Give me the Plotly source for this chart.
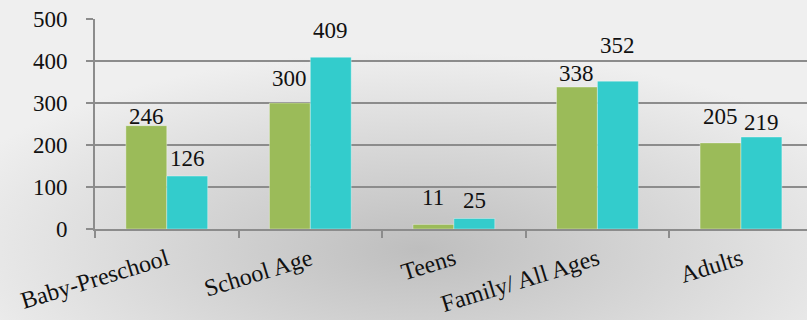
import base64
import plotly.graph_objects as go

categories = ["Baby-Preschool", "School Age", "Teens", "Family/ All Ages", "Adults"]
series_a = [246, 300, 11, 338, 205]
series_b = [126, 409, 25, 352, 219]
y_ticks = [0, 100, 200, 300, 400, 500]

# label lift above bar tops (pixels), as placed in the original
lift_a = [9, 25, 27, 13.5, 26.5]
lift_b = [17.5, 27, 18.5, 36, 15]

W, H = 807, 320
ML, MR, MT, MB = 95, 0, 19, 91
plot_w = W - ML - MR
plot_h = H - MT - MB
x_range = [-0.5, 4.46]
bargap = 0.43
cat_px = plot_w / (x_range[1] - x_range[0])
bar_px = cat_px * (1 - bargap) / 2

GREEN = "#9BBB59"
CYAN = "#33CCCC"
GRID = "#8c8c8c"
FONT = "'Liberation Serif', 'DejaVu Serif', serif"

fig = go.Figure()
fig.add_trace(go.Bar(x=categories, y=series_a, marker=dict(color=GREEN, line=dict(color="rgba(255,255,255,0.35)", width=1))))
fig.add_trace(go.Bar(x=categories, y=series_b, marker=dict(color=CYAN, line=dict(color="rgba(255,255,255,0.35)", width=1))))

for vals, lifts, sign in ((series_a, lift_a, -1), (series_b, lift_b, 1)):
    for c, v, l in zip(categories, vals, lifts):
        fig.add_annotation(x=c, y=v, xref="x", yref="y", text=str(v), showarrow=False,
                           xshift=sign * bar_px / 2, yshift=l, yanchor="middle", xanchor="center",
                           font=dict(family=FONT, size=23, color="#111111"))

svg = ('<svg xmlns="http://www.w3.org/2000/svg" width="807" height="320" viewBox="0 0 807 320" preserveAspectRatio="none">'
       '<defs><radialGradient id="g" cx="0.52" cy="0.78" r="0.62">'
       '<stop offset="0" stop-color="#bebebe"/><stop offset="1" stop-color="#efefef"/>'
       '</radialGradient></defs><rect width="807" height="320" fill="url(#g)"/></svg>')
src = "data:image/svg+xml;base64," + base64.b64encode(svg.encode()).decode()
fig.add_layout_image(source=src, xref="paper", yref="paper",
                     x=-ML / plot_w, y=1 + MT / plot_h, sizex=W / plot_w, sizey=H / plot_h,
                     xanchor="left", yanchor="top", sizing="stretch", layer="below")

fig.update_layout(
    width=W, height=H,
    margin=dict(l=ML, r=MR, t=MT, b=MB, pad=0, autoexpand=False),
    paper_bgcolor="rgba(0,0,0,0)", plot_bgcolor="rgba(0,0,0,0)",
    barmode="group", bargap=bargap, bargroupgap=0,
    showlegend=False,
    font=dict(family=FONT, size=23, color="#111111"),
)
fig.update_xaxes(type="category", range=x_range, showgrid=False, automargin=False,
                 showline=True, linecolor=GRID, linewidth=2,
                 ticks="outside", tickson="boundaries", ticklen=7, tickwidth=2, tickcolor=GRID,
                 tickangle=-17, tickfont=dict(family=FONT, size=24, color="#111111"),
                 ticklabelstandoff=5)
fig.update_yaxes(range=[0, 500], tickvals=y_ticks, showgrid=True, gridcolor=GRID, gridwidth=2,
                 automargin=False,
                 showline=True, linecolor=GRID, linewidth=2, zeroline=False,
                 ticks="outside", ticklen=7, tickwidth=2, tickcolor=GRID,
                 tickfont=dict(family=FONT, size=23, color="#111111"), ticklabelstandoff=14)

fig.write_html("out.html")
